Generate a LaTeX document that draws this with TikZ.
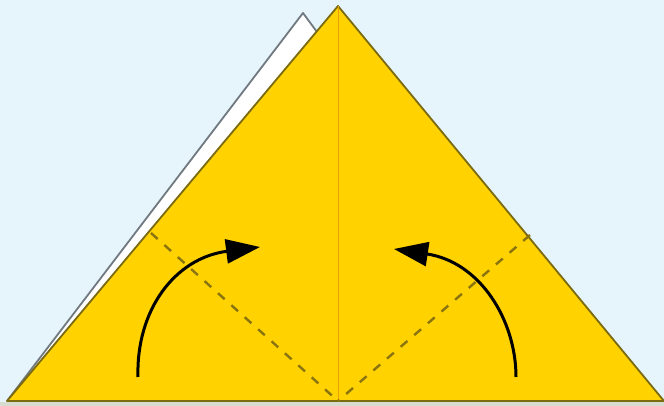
\documentclass[tikz,border=0pt]{standalone}
\usetikzlibrary{arrows.meta}
\definecolor{bgblue}{HTML}{E6F5FB}
\definecolor{paper}{HTML}{FFD200}
\definecolor{edge}{HTML}{7A6A10}
\definecolor{dashc}{HTML}{8A7410}
\definecolor{flapedge}{HTML}{707880}
\definecolor{midline}{HTML}{F0A000}
\definecolor{floor}{HTML}{D8DCD0}
\tikzset{
  fold/.style={dashc, line width=2.4pt, dash pattern=on 9pt off 9pt},
  turn/.style={black, line width=3pt, -{Triangle[length=34pt,width=24pt]}},
}
\begin{document}
\begin{tikzpicture}[x=1pt,y=-1pt]
\useasboundingbox (0,0) rectangle (664,406);
\fill[bgblue] (0,0) rectangle (664,406);
\fill[floor] (0,402) rectangle (664,406);
% coordinates
\coordinate (L) at (7,401);
\coordinate (R) at (664,401);
\coordinate (A) at (338,6);
\coordinate (F) at (303,13);
\coordinate (Fj) at (317,32);
\coordinate (M) at (338,401);
\coordinate (DL) at (151,233);
\coordinate (DR) at (530,235);
% back flap
\filldraw[fill=white, draw=flapedge, line width=1.8pt, line join=round] (L) -- (F) -- (Fj);
% front triangle
\filldraw[fill=paper, draw=edge, line width=1.8pt, line join=round] (L) -- (A) -- (R) -- cycle;
\draw[edge, line width=2.5pt] (L) -- (R);
% centre crease
\draw[midline, line width=1pt] (A) -- (M);
% fold lines
\draw[fold] (DL) -- (M);
\draw[fold] (DR) -- (M);
% arrows
\coordinate (a1s) at (138,377);
\coordinate (a1e) at (260,247);
\coordinate (a2s) at (516,377);
\coordinate (a2e) at (394,249);
\draw[turn] (a1s) .. controls (136,310) and (175,258) .. (a1e);
\draw[turn] (a2s) .. controls (516,320) and (480,262) .. (a2e);
\end{tikzpicture}
\end{document}
